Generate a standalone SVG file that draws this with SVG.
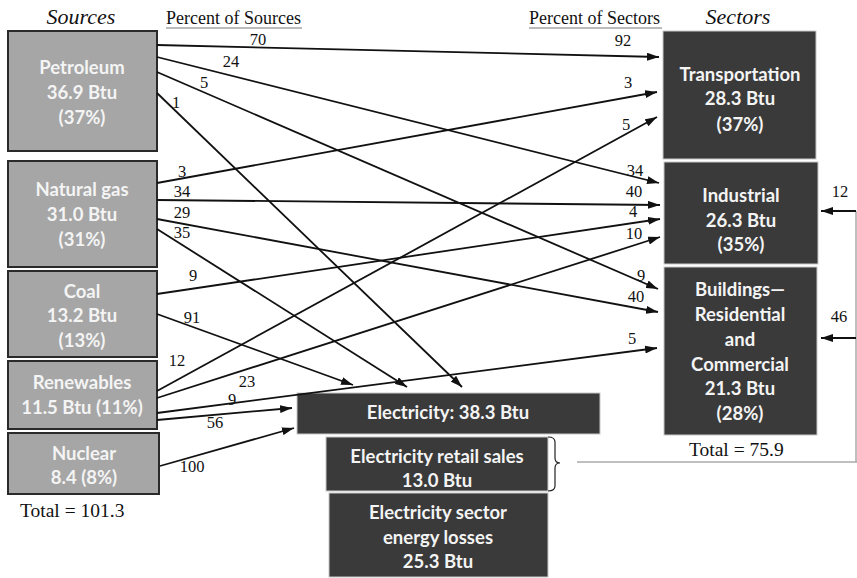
<svg xmlns="http://www.w3.org/2000/svg" width="857" height="578" viewBox="0 0 857 578">
  <defs>
    <marker id="ah" viewBox="0 0 12 8" refX="12" refY="4" markerWidth="12" markerHeight="8" orient="auto" markerUnits="userSpaceOnUse">
      <path d="M0,0 L12,4 L0,8 z" fill="#111"/>
    </marker>
    <style>
      .src { fill: #a6a6a6; stroke: #2a2a2a; stroke-width: 2; }
      .sec { fill: #3a3a3a; stroke: #c8c8c8; stroke-width: 1; }
      .bt { font-family: Lato, "Open Sans", sans-serif; font-weight: bold; font-size: 18.5px; fill: #f4f4f4; text-anchor: middle; }
      .hd { font-family: "Liberation Serif", serif; font-style: italic; font-size: 22px; fill: #111; text-anchor: middle; }
      .sub { font-family: "Liberation Serif", serif; font-size: 18px; fill: #111; }
      .tot { font-family: "Liberation Serif", serif; font-size: 19.5px; fill: #111; }
      .num { font-family: "Liberation Serif", serif; font-size: 16.5px; fill: #111; text-anchor: middle; }
      .ln { stroke: #111; stroke-width: 1.8; fill: none; marker-end: url(#ah); }
      .gl { stroke: #aaa; stroke-width: 1.5; fill: none; }
    </style>
  </defs>
  <rect width="857" height="578" fill="#fff"/>

  <!-- column headings -->
  <text class="hd" x="81" y="24">Sources</text>
  <text class="hd" x="738" y="24">Sectors</text>
  <text class="sub" x="166" y="24">Percent of Sources</text>
  <line x1="166" y1="28" x2="302" y2="28" stroke="#bbb" stroke-width="2"/>
  <text class="sub" x="529" y="24">Percent of Sectors</text>
  <line x1="529" y1="28" x2="662" y2="28" stroke="#bbb" stroke-width="2"/>

  <!-- source nodes -->
  <g id="petroleum">
    <rect class="src" x="8" y="31" width="149" height="120"/>
    <text class="bt" x="82" y="74">Petroleum</text>
    <text class="bt" x="82" y="99">36.9 Btu</text>
    <text class="bt" x="82" y="124">(37%)</text>
  </g>
  <g id="natural-gas">
    <rect class="src" x="8" y="161" width="149" height="106"/>
    <text class="bt" x="82" y="196">Natural gas</text>
    <text class="bt" x="82" y="221">31.0 Btu</text>
    <text class="bt" x="82" y="246">(31%)</text>
  </g>
  <g id="coal">
    <rect class="src" x="8" y="271" width="149" height="86"/>
    <text class="bt" x="82" y="298">Coal</text>
    <text class="bt" x="82" y="322">13.2 Btu</text>
    <text class="bt" x="82" y="347">(13%)</text>
  </g>
  <g id="renewables">
    <rect class="src" x="8" y="361" width="149" height="68"/>
    <text class="bt" x="82" y="389">Renewables</text>
    <text class="bt" x="82" y="414">11.5 Btu (11%)</text>
  </g>
  <g id="nuclear">
    <rect class="src" x="8" y="433" width="151" height="61"/>
    <text class="bt" x="84" y="460">Nuclear</text>
    <text class="bt" x="84" y="484">8.4 (8%)</text>
  </g>
  <text class="tot" x="20" y="517">Total = 101.3</text>

  <!-- sector nodes -->
  <g id="transportation">
    <rect class="sec" x="663" y="31" width="153" height="128"/>
    <text class="bt" x="740" y="81">Transportation</text>
    <text class="bt" x="740" y="105">28.3 Btu</text>
    <text class="bt" x="740" y="131">(37%)</text>
  </g>
  <g id="industrial">
    <rect class="sec" x="664" y="162" width="154" height="102"/>
    <text class="bt" x="741" y="202">Industrial</text>
    <text class="bt" x="741" y="227">26.3 Btu</text>
    <text class="bt" x="741" y="251">(35%)</text>
  </g>
  <g id="buildings">
    <rect class="sec" x="664" y="267" width="153" height="168"/>
    <text class="bt" x="740" y="296">Buildings—</text>
    <text class="bt" x="740" y="321">Residential</text>
    <text class="bt" x="740" y="346">and</text>
    <text class="bt" x="740" y="371">Commercial</text>
    <text class="bt" x="740" y="395">21.3 Btu</text>
    <text class="bt" x="740" y="420">(28%)</text>
  </g>
  <text class="tot" x="689" y="456">Total = 75.9</text>

  <!-- electricity nodes -->
  <g id="electricity">
    <rect class="sec" x="297" y="393" width="303" height="41"/>
    <text class="bt" x="448" y="419">Electricity: 38.3 Btu</text>
  </g>
  <g id="retail-sales">
    <rect class="sec" x="326" y="437" width="222" height="54"/>
    <text class="bt" x="437" y="463">Electricity retail sales</text>
    <text class="bt" x="437" y="487">13.0 Btu</text>
  </g>
  <g id="energy-losses">
    <rect class="sec" x="329" y="493" width="219" height="84"/>
    <text class="bt" x="438" y="519">Electricity sector</text>
    <text class="bt" x="438" y="544">energy losses</text>
    <text class="bt" x="438" y="568">25.3 Btu</text>
  </g>

  <!-- connectors -->
  <g id="connectors">
    <!-- petroleum -->
    <line class="ln" x1="157" y1="45" x2="659" y2="57"/>
    <line class="ln" x1="157" y1="57" x2="659" y2="183"/>
    <line class="ln" x1="157" y1="72" x2="658" y2="289"/>
    <line class="ln" x1="157" y1="93" x2="462" y2="387"/>
    <!-- natural gas -->
    <line class="ln" x1="157" y1="183" x2="657" y2="92"/>
    <line class="ln" x1="157" y1="200" x2="660" y2="205"/>
    <line class="ln" x1="157" y1="219" x2="658" y2="312"/>
    <line class="ln" x1="157" y1="229" x2="407" y2="387"/>
    <!-- coal -->
    <line class="ln" x1="157" y1="294" x2="660" y2="219"/>
    <line class="ln" x1="157" y1="314" x2="353" y2="385"/>
    <!-- renewables -->
    <line class="ln" x1="157" y1="391" x2="657" y2="117"/>
    <line class="ln" x1="157" y1="398" x2="660" y2="237"/>
    <line class="ln" x1="157" y1="413" x2="657" y2="348"/>
    <line class="ln" x1="157" y1="420" x2="292" y2="408"/>
    <!-- nuclear -->
    <line class="ln" x1="160" y1="466" x2="294" y2="428"/>
    <!-- retail sales back to industrial and buildings -->
    <path d="M548,437 Q555,437 555,442 L555,458 Q555,463 560,463 Q555,463 555,468 L555,486 Q555,491 548,491" fill="none" stroke="#222" stroke-width="1.2"/>
    <line class="gl" x1="577" y1="462" x2="857" y2="462"/>
    <line class="gl" x1="856" y1="211" x2="856" y2="462"/>
    <line class="ln" x1="856" y1="211" x2="821" y2="211"/>
    <line class="ln" x1="856" y1="338" x2="821" y2="338"/>
  </g>

  <!-- percentage labels -->
  <g id="labels">
    <text class="num" x="258" y="45">70</text>
    <text class="num" x="623" y="46">92</text>
    <text class="num" x="231" y="67">24</text>
    <text class="num" x="635" y="176">34</text>
    <text class="num" x="204" y="88">5</text>
    <text class="num" x="641" y="281">9</text>
    <text class="num" x="176" y="108">1</text>
    <text class="num" x="182" y="177">3</text>
    <text class="num" x="628" y="88">3</text>
    <text class="num" x="182" y="197">34</text>
    <text class="num" x="634" y="197">40</text>
    <text class="num" x="182" y="218">29</text>
    <text class="num" x="636" y="302">40</text>
    <text class="num" x="182" y="238">35</text>
    <text class="num" x="193" y="281">9</text>
    <text class="num" x="633" y="217">4</text>
    <text class="num" x="192" y="323">91</text>
    <text class="num" x="177" y="366">12</text>
    <text class="num" x="626" y="130">5</text>
    <text class="num" x="247" y="387">23</text>
    <text class="num" x="634" y="239">10</text>
    <text class="num" x="232" y="405">9</text>
    <text class="num" x="632" y="344">5</text>
    <text class="num" x="215" y="428">56</text>
    <text class="num" x="192" y="472">100</text>
    <text class="num" x="840" y="197">12</text>
    <text class="num" x="839" y="322">46</text>
  </g>
</svg>
